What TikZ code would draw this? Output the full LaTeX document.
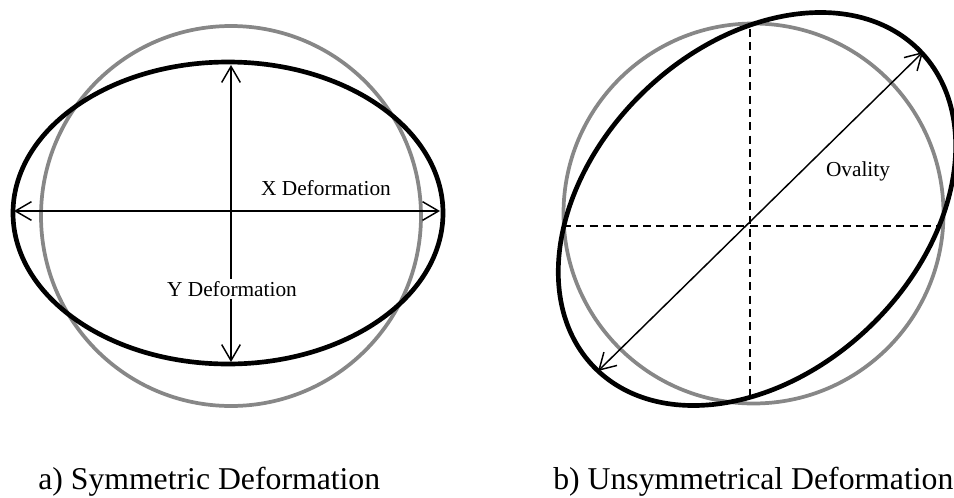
\documentclass[tikz,border=0pt]{standalone}
\usepackage{fontspec}
\setmainfont{Liberation Serif}
\usetikzlibrary{arrows.meta}
\definecolor{Ring}{HTML}{878787}
\tikzset{
  ring/.style={draw=Ring,line width=2.8pt},
  oval/.style={draw=black,line width=3.5pt},
  arr/.style={{Straight Barb[length=12pt,width=14pt]}-{Straight Barb[length=12pt,width=14pt]},line width=1.1pt},
  dashline/.style={dash pattern=on 6pt off 4pt,line width=1.2pt},
  lbl/.style={font=\fontsize{16}{19}\selectfont,inner sep=1pt},
  captext/.style={font=\fontsize{23.8}{28}\selectfont,anchor=base west,inner sep=0pt}
}
\begin{document}
\begin{tikzpicture}[x=0.75pt,y=-0.75pt]
  \useasboundingbox (0,0) rectangle (954,497);
  % a) symmetric
  \draw[ring] (231,216) circle [radius=190];
  \draw[oval] (228,213) ellipse [x radius=215,y radius=151];
  \coordinate (xl) at (14,211);
  \coordinate (xr) at (440,211);
  \coordinate (yt) at (231,65);
  \coordinate (yb) at (231,362);
  \draw[arr] (xl) -- (xr);
  \draw[arr] (yt) -- (yb);
  \node[lbl] (xdef) at (326,188) {X Deformation};
  \node[lbl,fill=white,inner sep=2pt] (ydef) at (232,289) {Y Deformation};
  % b) unsymmetrical
  \draw[ring] (753.5,213.5) circle [radius=190];
  \coordinate (vt) at (750,29);
  \coordinate (vb) at (750,402);
  \coordinate (hl) at (563,226);
  \coordinate (hr) at (940,226);
  \draw[dashline] (vt) -- (vb);
  \draw[dashline] (hl) -- (hr);
  \draw[oval,rotate around={44:(757,209)}] (757,209) ellipse [x radius=227,y radius=163];
  \coordinate (ol) at (598,371);
  \coordinate (ou) at (923,52);
  \draw[arr] (ol) -- (ou);
  \node[lbl] (ovl) at (858,171) {Ovality};
  % captions
  \node[captext] (capa) at (38,489) {a) Symmetric Deformation};
  \node[captext] (capb) at (553,489) {b) Unsymmetrical Deformation};
\end{tikzpicture}
\end{document}
